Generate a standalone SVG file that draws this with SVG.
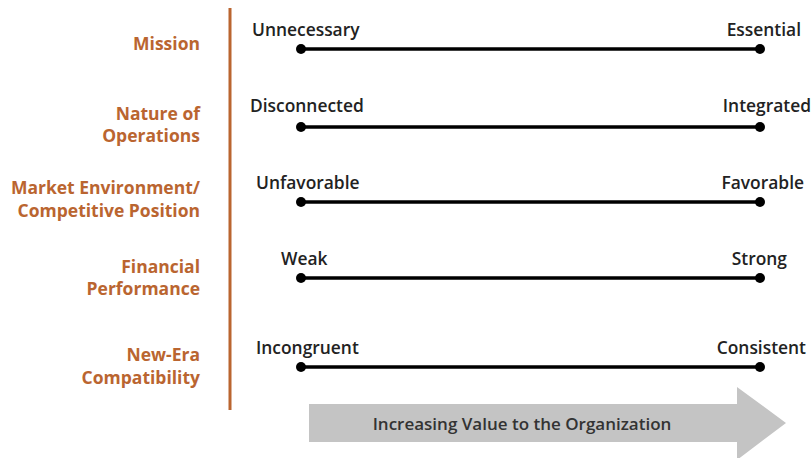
<svg xmlns="http://www.w3.org/2000/svg" width="812" height="458" viewBox="0 0 812 458">
<style>
.lbl{font-family:"Open Sans","Noto Sans",sans-serif;font-weight:700;font-size:17.5px;fill:#BA6530;text-anchor:end}
.end{font-family:"Open Sans","Noto Sans",sans-serif;font-weight:600;font-size:17.4px;fill:#222}
.r{text-anchor:end}
.bar{stroke:#000;stroke-width:3.5}
.dot{fill:#000}
</style>
<rect width="812" height="458" fill="#fff"/>
<line x1="230" y1="8" x2="230" y2="410" stroke="#BA6530" stroke-width="3"/>
<g id="arrow">
<polygon points="309,404 737,404 737,387 786,423 737,460 737,442 309,442" fill="#C4C4C4"/>
<text x="522" y="430" text-anchor="middle" style="font-family:'Open Sans','Noto Sans',sans-serif;font-weight:600;font-size:17px;fill:#333">Increasing Value to the Organization</text>
</g>
<g id="labels">
<text class="lbl" x="200" y="50">Mission</text>
<text class="lbl" x="200" y="120">Nature of</text>
<text class="lbl" x="200" y="142">Operations</text>
<text class="lbl" x="200" y="194">Market Environment/</text>
<text class="lbl" x="200" y="217">Competitive Position</text>
<text class="lbl" x="200" y="273">Financial</text>
<text class="lbl" x="200" y="295">Performance</text>
<text class="lbl" x="200" y="361">New-Era</text>
<text class="lbl" x="200" y="384">Compatibility</text>
</g>
<g id="connectors">
<g id="row-mission">
<line class="bar" x1="301" y1="49" x2="760" y2="49"/><circle class="dot" cx="301" cy="49" r="5"/><circle class="dot" cx="760" cy="49" r="5"/>
<text class="end" x="252" y="36">Unnecessary</text><text class="end r" x="801" y="36">Essential</text>
</g>
<g id="row-operations">
<line class="bar" x1="301" y1="127" x2="760" y2="127"/><circle class="dot" cx="301" cy="127" r="5"/><circle class="dot" cx="760" cy="127" r="5"/>
<text class="end" x="250" y="112">Disconnected</text><text class="end r" x="811" y="112">Integrated</text>
</g>
<g id="row-market">
<line class="bar" x1="301" y1="202" x2="760" y2="202"/><circle class="dot" cx="301" cy="202" r="5"/><circle class="dot" cx="760" cy="202" r="5"/>
<text class="end" x="256" y="189">Unfavorable</text><text class="end r" x="804" y="189">Favorable</text>
</g>
<g id="row-financial">
<line class="bar" x1="301" y1="278" x2="760" y2="278"/><circle class="dot" cx="301" cy="278" r="5"/><circle class="dot" cx="760" cy="278" r="5"/>
<text class="end" x="281" y="265">Weak</text><text class="end r" x="787" y="265">Strong</text>
</g>
<g id="row-era">
<line class="bar" x1="301" y1="367" x2="760" y2="367"/><circle class="dot" cx="301" cy="367" r="5"/><circle class="dot" cx="760" cy="367" r="5"/>
<text class="end" x="256" y="354">Incongruent</text><text class="end r" x="806" y="354">Consistent</text>
</g>
</g>
</svg>
